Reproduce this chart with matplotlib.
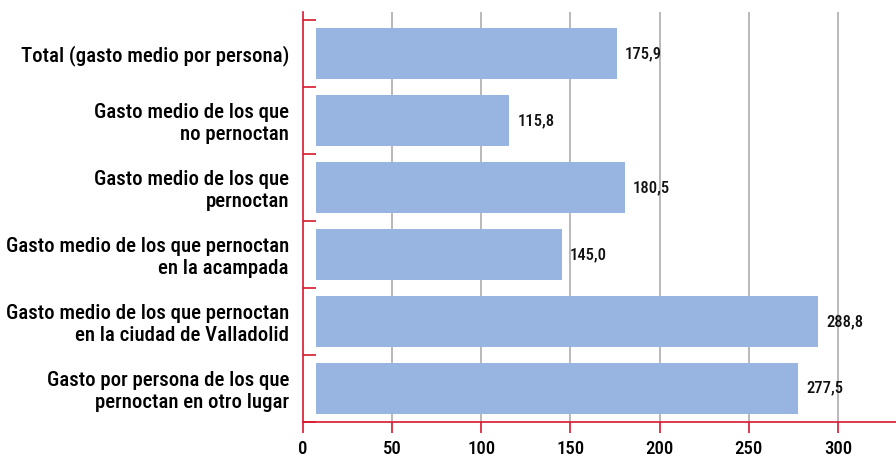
import matplotlib
matplotlib.use("Agg")
import matplotlib.pyplot as plt
import numpy as np

categories = [
    "Total (gasto medio por persona)",
    "Gasto medio de los que\nno pernoctan",
    "Gasto medio de los que\npernoctan",
    "Gasto medio de los que pernoctan\nen la acampada",
    "Gasto medio de los que pernoctan\nen la ciudad de Valladolid",
    "Gasto por persona de los que\npernoctan en otro lugar",
]
values = [175.9, 115.8, 180.5, 145.0, 288.8, 277.5]
xticks = [0, 50, 100, 150, 200, 250, 300]

RED = "#d8192e"
BAR = "#98b4e0"
BAR_START = 7.5  # bars in the original start a little right of the axis

plt.rcParams["font.family"] = ["Roboto Condensed", "DejaVu Sans"]

fig = plt.figure(figsize=(8.96, 4.58), dpi=100)
ax = fig.add_axes([0.338, 0.079, 0.662, 0.895])

y = np.arange(len(categories))
vals = np.array(values)
ax.barh(y, vals - BAR_START, left=BAR_START, height=0.77, color=BAR, zorder=2)

for yi, v in zip(y, vals):
    ax.annotate(f"{v:.1f}".replace(".", ","), (v, yi), xytext=(6, 0),
                textcoords="offset points", va="center", ha="left",
                fontsize=12, fontweight=500, color="#111111", zorder=3)

ax.set_xlim(0, 332.5)
ax.set_ylim(len(categories) - 0.5, -0.62)

ax.set_xticks(xticks)
ax.set_xticklabels([str(t) for t in xticks], fontsize=13.5, fontweight=500)
ax.tick_params(axis="x", direction="out", length=8, width=1.2, color=RED, pad=5)

ax.set_yticks(y)
ax.set_yticklabels(categories, fontsize=15, fontweight=500, linespacing=1.2)
ax.tick_params(axis="y", which="major", length=0, pad=10)
ax.set_yticks(np.arange(-0.5, len(categories), 1.0), minor=True)
ax.tick_params(axis="y", which="minor", direction="in", length=9, width=1.2, color=RED)

for t in xticks[1:]:
    ax.axvline(t, color="#b3b3b3", lw=1.3, zorder=1)

for s in ["top", "right"]:
    ax.spines[s].set_visible(False)
for s in ["left", "bottom"]:
    ax.spines[s].set_color(RED)
    ax.spines[s].set_linewidth(1.2)

fig.savefig("out.png", dpi=100)
